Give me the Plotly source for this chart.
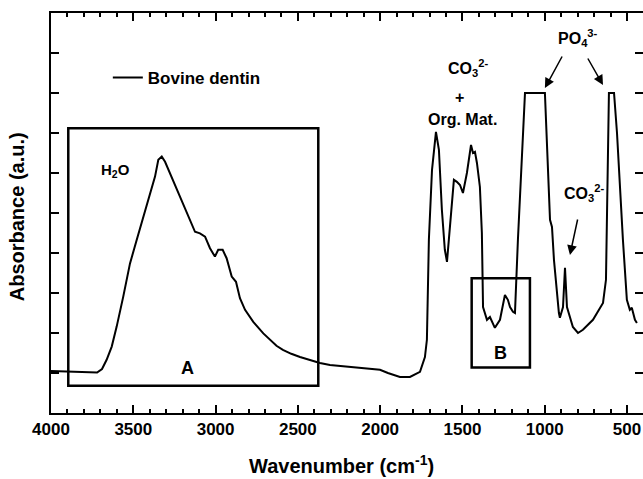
import plotly.graph_objects as go

# Spectrum
wavenumber = [4000, 3880, 3763, 3720, 3690, 3662, 3631, 3601, 3561, 3520, 3479, 3439,
              3399, 3368, 3348, 3327, 3307, 3277, 3236, 3206, 3176, 3145, 3125, 3095,
              3064, 3034, 3004, 2984, 2957, 2933, 2902, 2876, 2852, 2821, 2771, 2710,
              2670, 2630, 2591, 2540, 2487, 2366, 2305, 2150, 2001, 1953, 1880, 1819,
              1758, 1728, 1716,
              1704, 1685, 1661, 1643, 1625, 1607, 1594, 1576, 1552, 1534, 1515, 1497,
              1473, 1448, 1436, 1424, 1412, 1394, 1382, 1375, 1351, 1333, 1303, 1272,
              1242, 1224, 1211, 1193, 1181, 1163, 1139, 1120, 999, 987, 968, 956, 944,
              914, 908, 889, 877, 865, 829, 798, 768, 707, 646, 628, 619, 610, 579,
              561, 525, 501, 483, 471, 452, 440]
absorbance = [1.05, 1.04, 1.02, 1.01, 1.10, 1.33, 1.66, 2.16, 2.91, 3.74, 4.33, 4.91,
              5.49, 5.91, 6.33, 6.41, 6.28, 5.99, 5.58, 5.28, 4.99, 4.70, 4.53, 4.49,
              4.41, 4.12, 3.91, 4.08, 4.08, 3.87, 3.41, 3.28, 2.87, 2.58, 2.28, 1.99,
              1.83, 1.68, 1.58, 1.48, 1.40, 1.25, 1.20, 1.13, 1.08, 1.00, 0.90, 0.90,
              1.03, 1.40, 1.83,
              4.33, 6.08, 7.03, 6.58, 5.08, 4.08, 3.78, 4.58, 5.83, 5.78, 5.70, 5.50,
              6.00, 6.70, 6.50, 6.53, 6.25, 5.65, 4.50, 2.65, 2.33, 2.40, 2.13, 2.33,
              2.95, 2.83, 2.65, 2.53, 2.50, 4.33, 6.58, 8.00, 8.00, 6.83, 4.83, 4.65, 3.83,
              2.50, 2.38, 2.65, 3.63, 2.65, 2.15, 2.00, 2.08, 2.33, 2.75, 3.33, 5.30, 8.00, 8.00,
              7.00, 4.33, 2.83, 2.58, 2.63, 2.33, 2.25]

x_ticks = [4000, 3500, 3000, 2500, 2000, 1500, 1000, 500]
y_ticks = [1, 2, 3, 4, 5, 6, 7, 8, 9]
series_name = "Bovine dentin"

box_A = [3895, 2376, 0.68, 7.12]
box_B = [1444, 1090, 1.14, 3.37]

FONT = "Liberation Sans, Arial, sans-serif"
X_RANGE = [4000, 403]

fig = go.Figure()
fig.add_trace(go.Scatter(x=wavenumber, y=absorbance, mode="lines",
                         line=dict(color="black", width=2), name=series_name))
fig.add_trace(go.Scatter(x=[4000], y=[0], xaxis="x2", yaxis="y2", mode="markers",
                         marker=dict(opacity=0), showlegend=False, hoverinfo="skip"))

for (x0, x1, y0, y1) in [box_A, box_B]:
    fig.add_shape(type="rect", x0=x0, x1=x1, y0=y0, y1=y1, xref="x", yref="y",
                  line=dict(color="black", width=2.5))

def txt(x, y, t, size=16):
    fig.add_annotation(x=x, y=y, text=t, showarrow=False, xref="x", yref="y",
                       font=dict(family=FONT, size=size, color="black", weight="bold"))

txt(3611, 6.07, "H<sub>2</sub>O", 15)
txt(1467, 8.63, "CO<sub>3</sub><sup>2-</sup>")
txt(1515, 7.88, "+")
txt(1497, 7.33, "Org. Mat.")
txt(798, 9.38, "PO<sub>4</sub><sup>3-</sup>")
txt(762, 5.5, "CO<sub>3</sub><sup>2-</sup>")
txt(3168, 1.125, "A", 18)
txt(1266, 1.5, "B", 18)

for (x, y, ax, ay) in [(999, 8.125, 18, -33), (646, 8.2, -16, -28), (847, 3.95, 8, -37)]:
    fig.add_annotation(x=x, y=y, ax=ax, ay=ay, text="", showarrow=True,
                       arrowhead=2, arrowsize=1.3, arrowwidth=1.5, arrowcolor="black",
                       standoff=0, xref="x", yref="y")

tick_common = dict(tickvals=x_ticks, ticks="inside", ticklen=8, tickwidth=2,
                   tickcolor="black", showgrid=False, zeroline=False,
                   minor=dict(dtick=100, ticks="inside", ticklen=4, tickwidth=2,
                              tickcolor="black", showgrid=False))

fig.update_layout(
    width=643, height=479,
    margin=dict(l=51, r=0, t=13, b=66),
    plot_bgcolor="white", paper_bgcolor="white",
    font=dict(family=FONT, color="black"),
    showlegend=True,
    legend=dict(x=0.096, y=0.8375, xanchor="left", yanchor="middle",
                bgcolor="rgba(0,0,0,0)", borderwidth=0,
                font=dict(family=FONT, size=17, color="black", weight="bold")),
    xaxis=dict(range=X_RANGE, showline=True, linewidth=2, linecolor="black",
               mirror=True,
               tickfont=dict(family=FONT, size=17, color="black", weight="bold"),
               **tick_common),
    xaxis2=dict(range=X_RANGE, overlaying="x", side="top", showline=False,
                showticklabels=False, **tick_common),
    yaxis=dict(range=[0, 10], tickvals=y_ticks, ticks="inside", ticklen=8,
               tickwidth=2, tickcolor="black", showline=True, linewidth=2,
               linecolor="black", mirror=False, showgrid=False, zeroline=False,
               showticklabels=False),
    yaxis2=dict(range=[0, 10], overlaying="y", side="right", tickvals=y_ticks,
                ticks="inside", ticklen=8, tickwidth=2, tickcolor="black",
                showline=False, showgrid=False, zeroline=False, showticklabels=False),
)

fig.add_annotation(x=0.49, y=-0.13, xref="paper", yref="paper",
                   text="Wavenumber (cm<sup>-1</sup>)", showarrow=False,
                   yanchor="middle",
                   font=dict(family=FONT, size=20, color="black", weight="bold"))
fig.add_annotation(x=-0.057, y=0.49, xref="paper", yref="paper",
                   text="Absorbance (a.u.)", showarrow=False, textangle=-90,
                   xanchor="center", yanchor="middle",
                   font=dict(family=FONT, size=20, color="black", weight="bold"))

fig.write_html("out.html")
